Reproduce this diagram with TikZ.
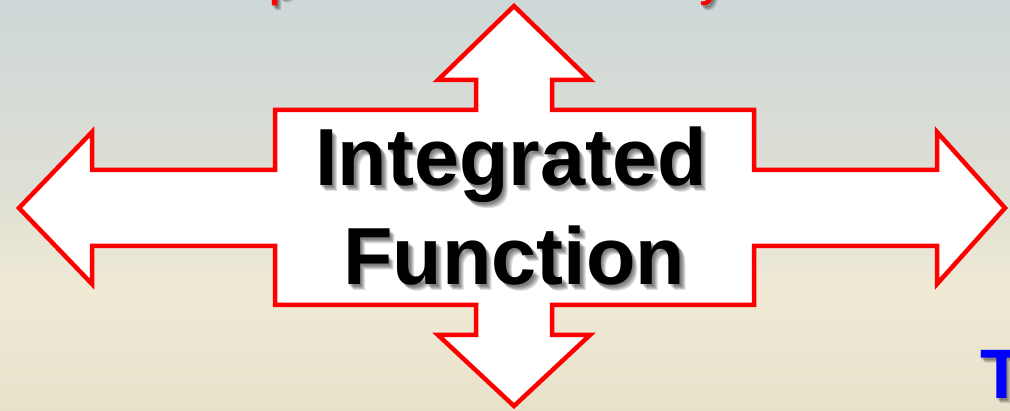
\documentclass[tikz,border=0pt]{standalone}
\usepackage{fontspec}
\setmainfont{Liberation Sans}
\definecolor{bgtop}{RGB}{206,216,216}
\definecolor{bgmid}{RGB}{223,224,212}
\definecolor{bglight}{RGB}{240,234,213}
\definecolor{bgbot}{RGB}{232,225,202}
\definecolor{arrowred}{RGB}{255,0,0}
\definecolor{titleblue}{RGB}{0,0,255}
\tikzset{
  outline/.style={draw=arrowred, fill=white, line width=4.5pt, line join=miter, miter limit=10},
  bigword/.style={inner sep=0pt, anchor=base, font=\bfseries\fontsize{81}{99}\selectfont},
  softshadow/.style={text=black, opacity=0.13},
  redbit/.style={inner sep=0pt, anchor=base west, text=arrowred, font=\bfseries\fontsize{40}{48}\selectfont},
  bluebit/.style={inner sep=0pt, anchor=base west, text=titleblue, font=\bfseries\fontsize{70}{84}\selectfont},
}
\begin{document}
\begin{tikzpicture}[x=1pt, y=-1pt]
  \useasboundingbox (0,0) rectangle (1010,411);
  \clip (0,0) rectangle (1010,411);
  % backdrop, three vertical bands
  \shade[top color=bgtop, bottom color=bgmid] (0,0) rectangle (1010,200.5);
  \shade[top color=bgmid, bottom color=bglight] (0,200) rectangle (1010,290.5);
  \shade[top color=bglight, bottom color=bgbot] (0,290) rectangle (1010,411);

  % descenders of the heading above
  \foreach \d in {1.5,2.5,3.5,4.5} {
    \node[redbit, softshadow] at (269+\d,-2+\d) {p};
    \node[redbit, softshadow] at (699+\d,-2+\d) {y};
    \node[bluebit, softshadow] at (980+\d,399+\d) {T};
  }
  \node[redbit] (hp) at (269,-2) {p};
  \node[redbit] (hy) at (699,-2) {y};
  \node[bluebit] (ht) at (980,399) {T};

  % four-way arrow
  \draw[outline]
    (514,6) -- (590,80) -- (552,80) -- (552,110) -- (754,110) -- (754,170)
    -- (937,170) -- (937,132) -- (1005,208) -- (937,284) -- (937,246)
    -- (754,246) -- (754,305) -- (552,305) -- (552,335) -- (590,335)
    -- (514,406) -- (438,335) -- (476,335) -- (476,305) -- (275,305)
    -- (275,246) -- (92,246) -- (92,284) -- (19,208) -- (92,132)
    -- (92,170) -- (275,170) -- (275,110) -- (476,110) -- (476,80)
    -- (438,80) -- cycle;

  % label with soft drop shadow
  \foreach \d in {1.5,2.5,3.5,4.5,5.5} {
    \node[bigword, softshadow] at (511+\d,186+\d) {Integrated};
    \node[bigword, softshadow] at (514+\d,285+\d) {Function};
  }
  \node[bigword] (w1) at (511,186) {Integrated};
  \node[bigword] (w2) at (514,285) {Function};
\end{tikzpicture}
\end{document}
